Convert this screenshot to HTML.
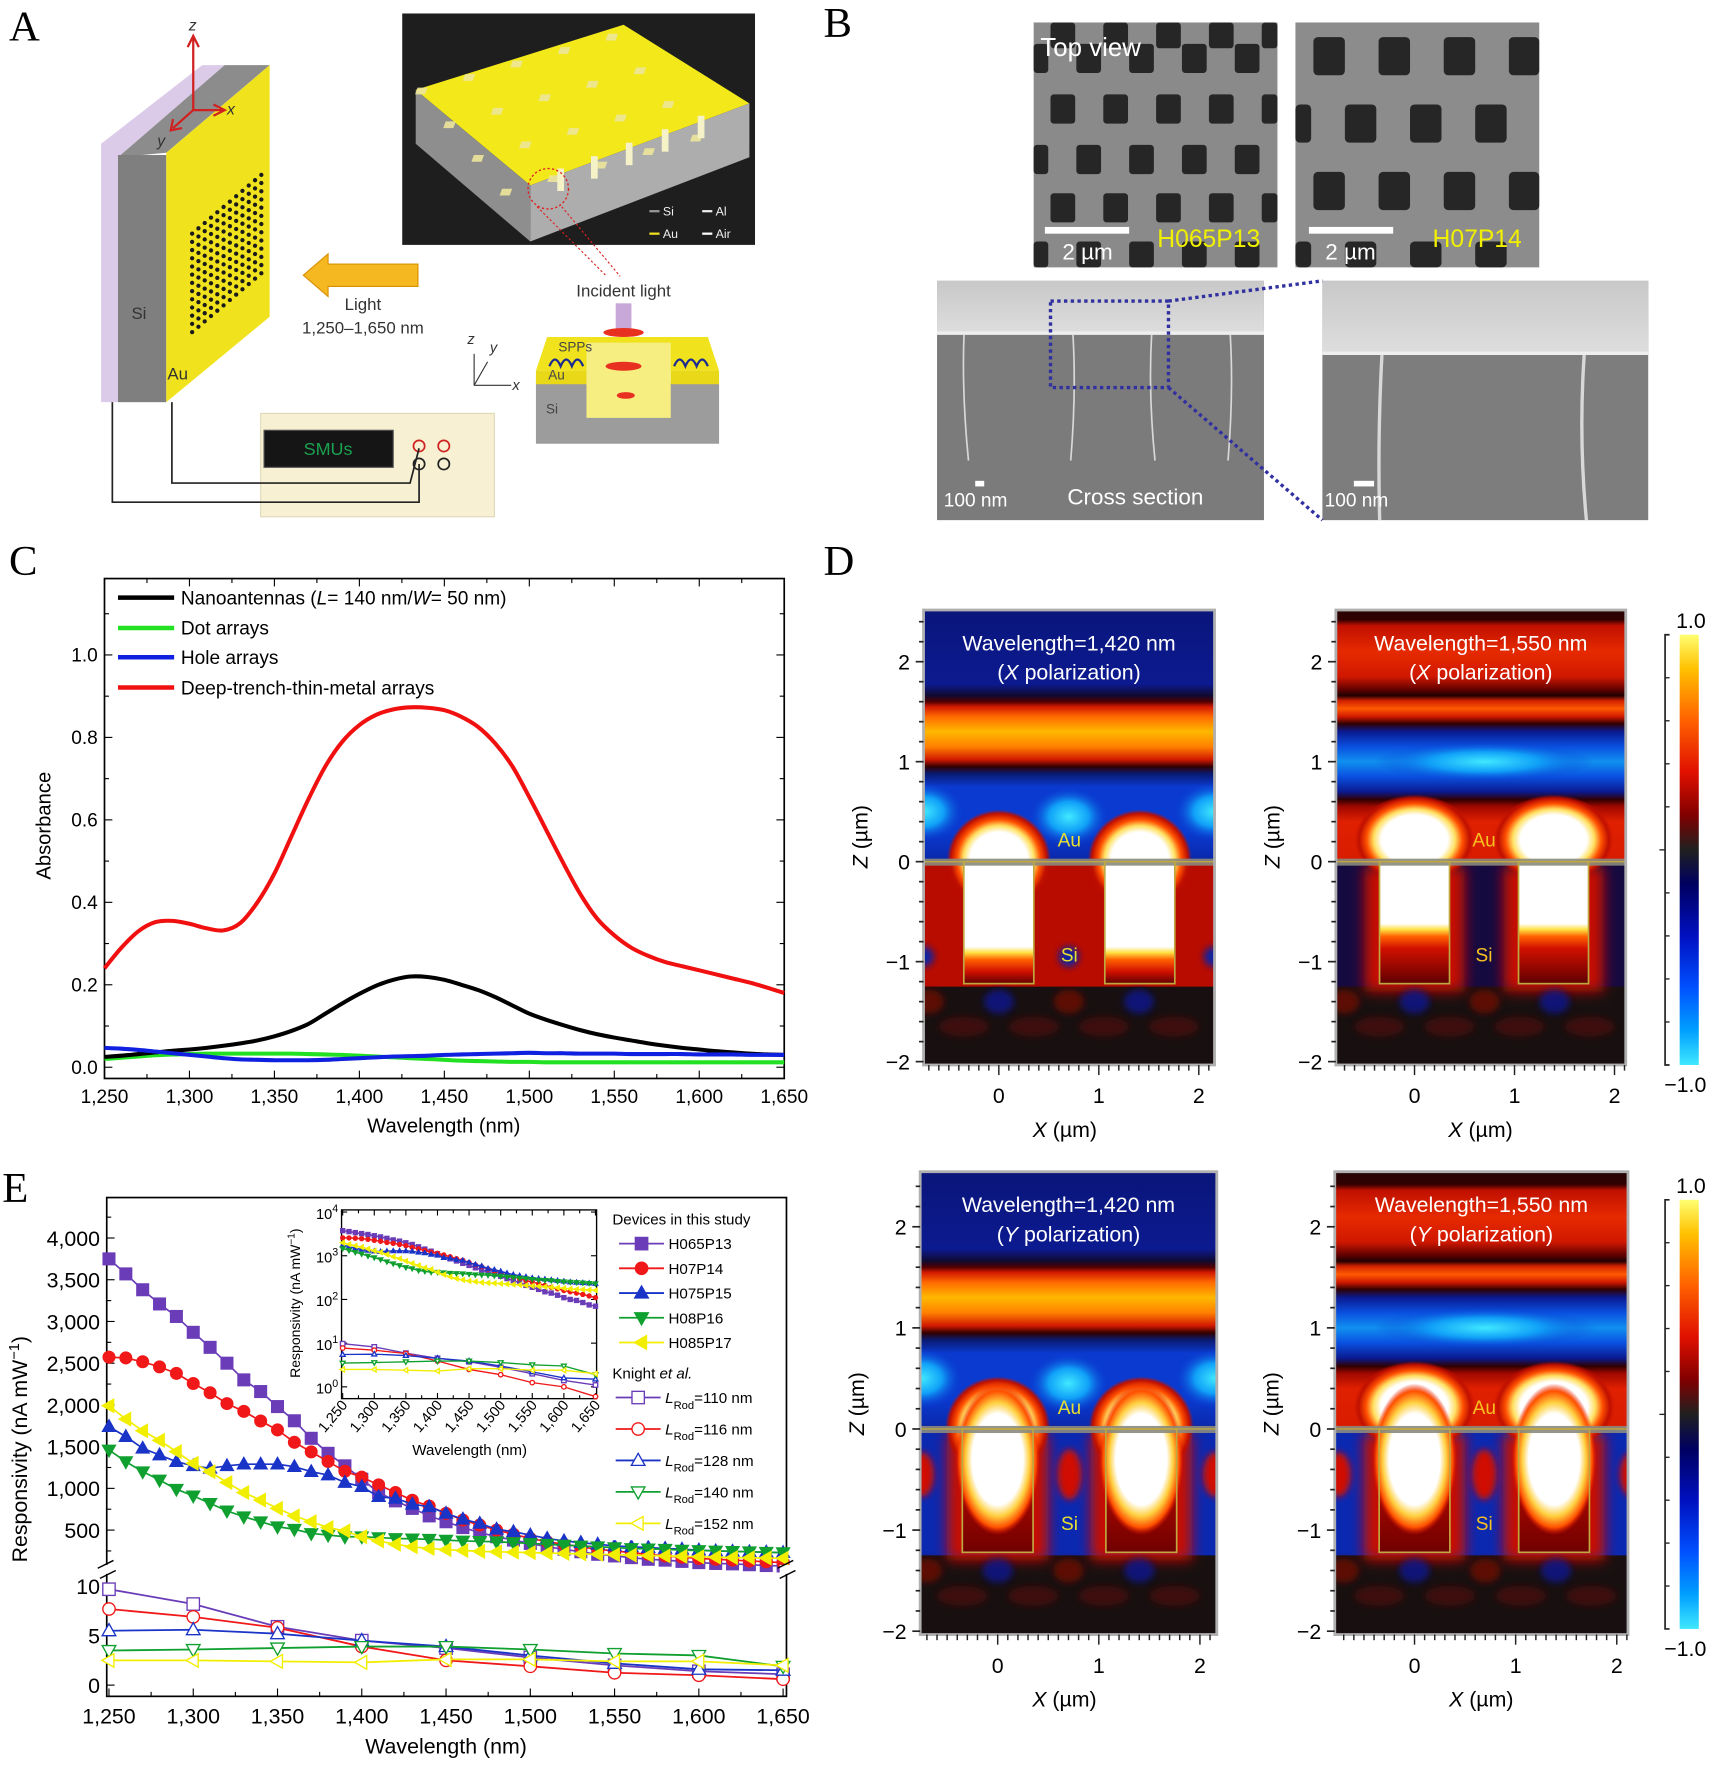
<!DOCTYPE html>
<html><head><meta charset="utf-8">
<style>
html,body{margin:0;padding:0;background:#fff}
svg{display:block}
text{font-family:"Liberation Sans",sans-serif}
.serif{font-family:"Liberation Serif",serif}
</style></head>
<body>
<svg id="fig" width="1719" height="1766" viewBox="0 0 1530 1572" preserveAspectRatio="none" xmlns="http://www.w3.org/2000/svg">
<defs>
  <linearGradient id="cbar" x1="0" y1="0" x2="0" y2="1">
    <stop offset="0" stop-color="#ffff70"/><stop offset="0.08" stop-color="#ffc000"/>
    <stop offset="0.2" stop-color="#ff6000"/><stop offset="0.32" stop-color="#e01000"/>
    <stop offset="0.42" stop-color="#800000"/><stop offset="0.5" stop-color="#202020"/>
    <stop offset="0.58" stop-color="#000060"/><stop offset="0.7" stop-color="#0010c0"/>
    <stop offset="0.82" stop-color="#0050ff"/><stop offset="0.92" stop-color="#00a0ff"/>
    <stop offset="1" stop-color="#40e8ff"/>
  </linearGradient>
  <linearGradient id="semTop" x1="0" y1="0" x2="0" y2="1">
    <stop offset="0" stop-color="#c8c8c8"/><stop offset="1" stop-color="#dedede"/>
  </linearGradient>
  <filter id="blur6" x="-50%" y="-50%" width="200%" height="200%"><feGaussianBlur stdDeviation="6"/></filter>
  <filter id="blur3" x="-50%" y="-50%" width="200%" height="200%"><feGaussianBlur stdDeviation="3"/></filter>
</defs>

<!-- Panel letters -->
<text class="serif" x="8" y="36" font-size="38">A</text>
<text class="serif" x="733" y="33" font-size="38">B</text>
<text class="serif" x="8" y="512" font-size="38">C</text>
<text class="serif" x="733" y="512" font-size="38">D</text>
<text class="serif" x="2" y="1070" font-size="38">E</text>

<!-- PANEL A -->
<g>
  <polygon points="90,128 180,58 200,58 105,140 105,358 90,358" fill="#dccbe8"/>
  <polygon points="105,140 200,58 240,58 148,136" fill="#8c8c8c"/>
  <rect x="105" y="138" width="43" height="220" fill="#7f7f7f"/>
  <polygon points="148,136 240,58 240,282 148,358" fill="#f0e21c"/>
  <g id="holes"></g>
  <text x="117" y="284" font-size="15" fill="#333">Si</text>
  <text x="149" y="338" font-size="15" fill="#333">Au</text>
  <g stroke="#d02020" stroke-width="2" fill="none">
    <line x1="172" y1="98" x2="172" y2="34"/><polyline points="167,42 172,32 177,42"/>
    <line x1="172" y1="98" x2="198" y2="98"/><polyline points="190,93 200,98 190,103"/>
    <line x1="172" y1="98" x2="154" y2="114"/><polyline points="154,106 152,116 162,114"/>
  </g>
  <text x="168" y="27" font-size="14" font-style="italic" fill="#333">z</text>
  <text x="202" y="102" font-size="14" font-style="italic" fill="#333">x</text>
  <text x="140" y="130" font-size="14" font-style="italic" fill="#333">y</text>
  <rect x="358" y="12" width="314" height="206" fill="#1e1e1e"/>
  <polygon points="370,80 555,22 667,92 472,165" fill="#f2e81a"/>
  <polygon points="370,80 472,165 472,215 370,128" fill="#8e8e8e"/>
  <polygon points="472,165 667,92 667,140 472,215" fill="#adadad"/>
  <g id="pads" fill="#ece59a"></g>
  <g fill="#f6f2c8">
    <rect x="496" y="150" width="6" height="20"/><rect x="526" y="139" width="6" height="20"/>
    <rect x="557" y="127" width="6" height="20"/><rect x="589" y="115" width="6" height="20"/>
    <rect x="621" y="103" width="6" height="20"/>
  </g>
  <circle cx="488" cy="168" r="18" fill="none" stroke="#e02020" stroke-width="1.2" stroke-dasharray="2,2"/>
  <line x1="478" y1="184" x2="540" y2="246" stroke="#e02020" stroke-dasharray="2,2"/>
  <line x1="500" y1="184" x2="552" y2="246" stroke="#e02020" stroke-dasharray="2,2"/>
  <g font-size="11" fill="#eee">
    <rect x="578" y="187" width="9" height="2" fill="#999"/><text x="590" y="192">Si</text>
    <rect x="625" y="187" width="9" height="2" fill="#eee"/><text x="637" y="192">Al</text>
    <rect x="578" y="207" width="9" height="2" fill="#f0e020"/><text x="590" y="212">Au</text>
    <rect x="625" y="207" width="9" height="2" fill="#fff"/><text x="637" y="212">Air</text>
  </g>
  <polygon points="270,245 292,226 292,235 372,235 372,255 292,255 292,264" fill="#f5b820" stroke="#d89000"/>
  <text x="323" y="276" font-size="15" fill="#333" text-anchor="middle">Light</text>
  <text x="323" y="297" font-size="15" fill="#333" text-anchor="middle">1,250–1,650 nm</text>
  <text x="555" y="264" font-size="15" fill="#333" text-anchor="middle">Incident light</text>
  <g>
    <rect x="477" y="340" width="163" height="55" fill="#9c9c9c"/>
    <polygon points="487,300 630,300 640,330 477,330" fill="#f0e21c"/>
    <rect x="477" y="330" width="45" height="12" fill="#e8d818"/>
    <rect x="597" y="330" width="43" height="12" fill="#e8d818"/>
    <polygon points="522,305 597,305 597,372 522,372" fill="#f6ee80"/>
    <rect x="548" y="270" width="14" height="28" fill="#c8a8d8"/>
    <ellipse cx="555" cy="296" rx="18" ry="4" fill="#e83020"/>
    <ellipse cx="555" cy="326" rx="16" ry="4" fill="#e83020"/>
    <ellipse cx="557" cy="352" rx="8" ry="3" fill="#e83020"/>
    <path d="M489,326 q5,-12 10,0 q5,-12 10,0 q5,-12 10,0 M600,326 q5,-12 10,0 q5,-12 10,0 q5,-12 10,0" fill="none" stroke="#1a2a90" stroke-width="2"/>
    <text x="497" y="313" font-size="12" fill="#444">SPPs</text>
    <text x="488" y="338" font-size="12" fill="#444">Au</text>
    <text x="486" y="368" font-size="12" fill="#444">Si</text>
    <g stroke="#333" fill="none"><line x1="422" y1="343" x2="422" y2="315"/><line x1="422" y1="343" x2="455" y2="343"/><line x1="422" y1="343" x2="434" y2="322"/></g>
    <text x="416" y="306" font-size="13" font-style="italic" fill="#333">z</text>
    <text x="436" y="314" font-size="13" font-style="italic" fill="#333">y</text>
    <text x="456" y="347" font-size="13" font-style="italic" fill="#333">x</text>
  </g>
  <rect x="232" y="368" width="208" height="92" fill="#f7f0d2" stroke="#e0d8b8"/>
  <rect x="235" y="383" width="115" height="33" fill="#151515" stroke="#555"/>
  <text x="292" y="405" font-size="16" fill="#1aa050" text-anchor="middle">SMUs</text>
  <g fill="none" stroke-width="1.5">
    <circle cx="373" cy="397" r="5" stroke="#d02020"/><circle cx="395" cy="397" r="5" stroke="#d02020"/>
    <circle cx="373" cy="413" r="5" stroke="#222"/><circle cx="395" cy="413" r="5" stroke="#222"/>
    <polyline points="100,358 100,447 373,447 373,413" stroke="#222"/>
    <polyline points="153,358 153,430 365,430 373,399" stroke="#222"/>
  </g>
</g>

<!-- PANEL B -->
<g>
  <rect x="920" y="20" width="217" height="218" fill="#8a8a8a"/>
  <g id="sq1" fill="#262626"></g>
  <rect x="1153" y="20" width="217" height="218" fill="#8c8c8c"/>
  <g id="sq2" fill="#262626"></g>
  <text x="926" y="50" font-size="23" fill="#fff">Top view</text>
  <rect x="930" y="202" width="75" height="6" fill="#fff"/>
  <text x="968" y="231" font-size="20" fill="#fff" text-anchor="middle">2 µm</text>
  <text x="1030" y="220" font-size="22" fill="#f0f000">H065P13</text>
  <rect x="1165" y="202" width="75" height="6" fill="#fff"/>
  <text x="1202" y="231" font-size="20" fill="#fff" text-anchor="middle">2 µm</text>
  <text x="1275" y="220" font-size="22" fill="#f0f000">H07P14</text>
  <rect x="834" y="250" width="291" height="213" fill="#7b7b7b"/>
  <rect x="834" y="250" width="291" height="48" fill="url(#semTop)"/>
  <rect x="834" y="295" width="291" height="3" fill="#eee"/>
  <g stroke="#d8d8d8" stroke-width="1.5" fill="none">
    <path d="M858,298 Q856,350 862,410"/><path d="M955,298 Q958,350 953,410"/>
    <path d="M1025,298 Q1022,350 1028,410"/><path d="M1095,298 Q1098,350 1093,410"/>
  </g>
  <rect x="868" y="428" width="8" height="5" fill="#fff"/>
  <text x="840" y="451" font-size="17" fill="#fff">100 nm</text>
  <text x="950" y="449" font-size="20" fill="#fff">Cross section</text>
  <rect x="935" y="268" width="105" height="77" fill="none" stroke="#3030a0" stroke-width="3" stroke-dasharray="3,3"/>
  <rect x="1177" y="250" width="290" height="213" fill="#7d7d7d"/>
  <rect x="1177" y="250" width="290" height="65" fill="url(#semTop)"/>
  <rect x="1177" y="313" width="290" height="3" fill="#eee"/>
  <g stroke="#d8d8d8" stroke-width="3" fill="none"><path d="M1230,316 Q1226,390 1228,463"/><path d="M1410,316 Q1405,390 1412,463"/></g>
  <rect x="1205" y="428" width="18" height="5" fill="#fff"/>
  <text x="1179" y="451" font-size="17" fill="#fff">100 nm</text>
  <line x1="1040" y1="268" x2="1177" y2="250" stroke="#3030a0" stroke-width="3" stroke-dasharray="3,3"/>
  <line x1="1040" y1="345" x2="1177" y2="463" stroke="#3030a0" stroke-width="3" stroke-dasharray="3,3"/>
</g>

<g id="panelC"></g>
<g id="panelD"></g>
<g id="panelE"></g>
</svg>

<script>
const NS='http://www.w3.org/2000/svg';
const svg=document.getElementById('fig');
function mk(tag,attrs,parent){const e=document.createElementNS(NS,tag);for(const k in attrs)e.setAttribute(k,attrs[k]);(parent||svg).appendChild(e);return e;}
function txt(s,attrs,parent){const t=mk('text',attrs,parent);t.textContent=s;return t;}

/* ---------- PANEL C DATA ---------- */
const cWave=[1250,1260,1270,1280,1290,1300,1310,1320,1330,1340,1350,1360,1370,1380,1390,1400,1410,1420,1430,1440,1450,1460,1470,1480,1490,1500,1510,1520,1530,1540,1550,1560,1570,1580,1590,1600,1610,1620,1630,1640,1650];
const cRed=[.24,.29,.33,.352,.355,.348,.337,.332,.35,.40,.47,.56,.65,.73,.79,.83,.855,.868,.873,.872,.866,.85,.825,.785,.73,.655,.575,.495,.42,.36,.32,.29,.27,.255,.245,.235,.225,.215,.205,.193,.18];
const cBlack=[.025,.028,.032,.036,.04,.043,.047,.052,.058,.065,.075,.088,.105,.13,.155,.178,.198,.212,.22,.219,.212,.2,.187,.17,.15,.13,.115,.102,.09,.08,.072,.065,.058,.052,.047,.043,.039,.036,.033,.031,.03];
const cGreen=[.02,.023,.026,.029,.031,.032,.033,.033,.033,.033,.033,.033,.032,.031,.03,.028,.026,.024,.022,.02,.018,.016,.015,.014,.013,.013,.012,.012,.012,.012,.012,.012,.012,.012,.012,.012,.012,.012,.012,.012,.012];
const cBlue=[.047,.045,.042,.038,.034,.03,.026,.022,.019,.018,.017,.017,.017,.018,.02,.022,.024,.026,.027,.028,.03,.031,.032,.033,.034,.035,.034,.034,.033,.033,.033,.032,.032,.032,.032,.031,.031,.031,.03,.03,.03];
const cYTicks=[0,0.2,0.4,0.6,0.8,1.0];
const cYTickLabels=['0.0','0.2','0.4','0.6','0.8','1.0'];
const cXTicks=[1250,1300,1350,1400,1450,1500,1550,1600,1650];
const cXTickLabels=['1,250','1,300','1,350','1,400','1,450','1,500','1,550','1,600','1,650'];
const cLegend=['Nanoantennas','Dot arrays','Hole arrays','Deep-trench-thin-metal arrays'];

/* ---------- PANEL E DATA ---------- */
const eWave=[1250,1260,1270,1280,1290,1300,1310,1320,1330,1340,1350,1360,1370,1380,1390,1400,1410,1420,1430,1440,1450,1460,1470,1480,1490,1500,1510,1520,1530,1540,1550,1560,1570,1580,1590,1600,1610,1620,1630,1640,1650];
const eH065P13=[3750,3570,3380,3210,3060,2870,2690,2500,2300,2160,1980,1810,1600,1420,1270,1110,950,850,760,670,600,530,470,420,380,340,300,270,240,210,190,170,150,140,125,110,100,95,85,75,70];
const eH07P14=[2573,2563,2517,2456,2378,2257,2146,2016,1923,1807,1700,1552,1437,1321,1205,1135,1042,950,857,787,700,620,560,500,450,400,360,330,300,270,250,230,210,190,175,160,150,140,130,120,110];
const eH075P15=[1740,1620,1480,1400,1320,1270,1240,1270,1290,1290,1290,1260,1200,1160,1070,1020,900,880,810,780,700,630,580,510,480,440,400,370,350,330,310,300,290,280,270,260,250,245,240,235,230];
const eH08P16=[1460,1320,1200,1100,990,910,820,730,660,600,540,510,460,440,420,420,410,400,395,390,380,370,365,360,350,340,330,320,310,300,290,280,275,270,260,255,250,245,240,235,230];
const eH085P17=[1990,1830,1690,1575,1440,1300,1200,1070,950,860,760,670,600,530,490,420,370,330,300,280,265,255,245,240,235,230,225,220,215,210,205,200,195,190,185,180,175,170,168,165,162];
const kWave=[1250,1300,1350,1400,1450,1500,1550,1600,1650];
const kL110=[9.7,8.2,5.9,4.5,3.75,2.8,2.0,1.4,1.1];
const kL116=[7.7,6.9,5.8,3.9,2.5,1.9,1.25,1.0,0.6];
const kL128=[5.5,5.6,5.2,4.5,3.9,3.0,2.2,1.6,1.5];
const kL140=[3.5,3.6,3.75,3.9,3.9,3.6,3.2,3.0,1.9];
const kL152=[2.5,2.5,2.4,2.3,2.6,2.6,2.4,2.4,2.0];
const eUpperTicks=[500,1000,1500,2000,2500,3000,3500,4000];
const eUpperLabels=['500','1,000','1,500','2,000','2,500','3,000','3,500','4,000'];
const eLowerTicks=[0,5,10];
const eLowerLabels=['0','5','10'];
const eXTicks=[1250,1300,1350,1400,1450,1500,1550,1600,1650];
const eXTickLabels=['1,250','1,300','1,350','1,400','1,450','1,500','1,550','1,600','1,650'];
const insetDecades=[0,1,2,3,4];
const deviceNames=['H065P13','H07P14','H075P15','H08P16','H085P17'];
const knightNames=['110','116','128','140','152'];

/* ---------- helpers ---------- */
function smooth(pts){
  let d='M'+pts[0][0].toFixed(2)+','+pts[0][1].toFixed(2);
  for(let i=0;i<pts.length-1;i++){
    const p0=pts[i-1]||pts[i],p1=pts[i],p2=pts[i+1],p3=pts[i+2]||p2;
    const c1=[p1[0]+(p2[0]-p0[0])/6,p1[1]+(p2[1]-p0[1])/6];
    const c2=[p2[0]-(p3[0]-p1[0])/6,p2[1]-(p3[1]-p1[1])/6];
    d+=' C'+c1[0].toFixed(2)+','+c1[1].toFixed(2)+' '+c2[0].toFixed(2)+','+c2[1].toFixed(2)+' '+p2[0].toFixed(2)+','+p2[1].toFixed(2);
  }
  return d;
}
function marker(shape,x,y,r,fill,stroke,parent){
  let e;
  if(shape==='sq') e=mk('rect',{x:x-r,y:y-r,width:2*r,height:2*r,fill:fill,stroke:stroke,'stroke-width':1.2},parent);
  else if(shape==='ci') e=mk('circle',{cx:x,cy:y,r:r,fill:fill,stroke:stroke,'stroke-width':1.2},parent);
  else {
    let p;
    if(shape==='up') p=[[x,y-r*1.15],[x+r*1.1,y+r*0.8],[x-r*1.1,y+r*0.8]];
    else if(shape==='dn') p=[[x,y+r*1.15],[x+r*1.1,y-r*0.8],[x-r*1.1,y-r*0.8]];
    else p=[[x-r*1.15,y],[x+r*0.8,y-r*1.1],[x+r*0.8,y+r*1.1]];
    e=mk('polygon',{points:p.map(q=>q.join(',')).join(' '),fill:fill,stroke:stroke,'stroke-width':1.2},parent);
  }
  return e;
}

/* ---------- PANEL A/B decorations ---------- */
(function(){
  const g=document.getElementById('holes');
  for(let i=0;i<12;i++)for(let j=0;j<13;j++){
    mk('circle',{cx:171+i*5.6,cy:208-i*5.6*0.85+j*7.3,r:1.9,fill:'#1a1a1a'},g);
  }
  const p=document.getElementById('pads');
  for(let i=0;i<5;i++)for(let j=0;j<4;j++){
    const x=400+i*38+j*36, y=78-i*12+j*30;
    mk('rect',{x:x,y:y,width:9,height:6,transform:'skewX(-20)',opacity:0.9},p);
  }
  const s1=document.getElementById('sq1'), s2=document.getElementById('sq2');
  const rows1=[30,52,97,142,185,228];
  for(let r=0;r<rows1.length;r++){const off=(r%2===0)?24:0;
    for(let c=-1;c<6;c++){const cx=922+off+c*47;
      const x0=Math.max(920,cx-11), x1=Math.min(1137,cx+11), y0=Math.max(20,rows1[r]-13), y1=Math.min(238,rows1[r]+13);
      if(x1>x0&&y1>y0) mk('rect',{x:x0,y:y0,width:x1-x0,height:y1-y0,rx:3},s1);}}
  const rows2=[50,110,170,232];
  for(let r=0;r<rows2.length;r++){const off=(r%2===0)?30:0;
    for(let c=-1;c<6;c++){const cx=1153+off+c*58;
      const x0=Math.max(1153,cx-14), x1=Math.min(1370,cx+14), y0=Math.max(20,rows2[r]-17), y1=Math.min(238,rows2[r]+17);
      if(x1>x0&&y1>y0) mk('rect',{x:x0,y:y0,width:x1-x0,height:y1-y0,rx:4},s2);}}
})();

/* ---------- PANEL C ---------- */
(function(){
  const g=document.getElementById('panelC');
  const L=93,R=698,T=515,B=960;
  function cx(w){return L+(w-1250)/400*(R-L);}
  function cy(v){return 950-v*367;}
  const fr=mk('rect',{x:L,y:T,width:R-L,height:B-T,fill:'none',stroke:'#000','stroke-width':1.5},g);
   
  for(let v=0;v<=1.15;v+=0.1){const y=cy(v);const maj=Math.abs(v*5-Math.round(v*5))<1e-6;const len=maj?7:4;
    mk('line',{x1:L,y1:y,x2:L+len,y2:y,stroke:'#000'},g);mk('line',{x1:R,y1:y,x2:R-len,y2:y,stroke:'#000'},g);}
  for(let w=1250;w<=1650;w+=25){const x=cx(w);const len=(w%50===0)?7:4;
    mk('line',{x1:x,y1:B,x2:x,y2:B-len,stroke:'#000'},g);mk('line',{x1:x,y1:T,x2:x,y2:T+len,stroke:'#000'},g);}
  cYTicks.forEach((v,i)=>{const t=txt(cYTickLabels[i],{x:L-6,y:cy(v)+6,'font-size':17,'text-anchor':'end'},g);
     });
  cXTicks.forEach((w,i)=>{const t=txt(cXTickLabels[i],{x:cx(w),y:982,'font-size':17,'text-anchor':'middle'},g);
     });
  const xl=txt('Wavelength (nm)',{x:395,y:1008,'font-size':18,'text-anchor':'middle'},g);
   
  const yl=txt('Absorbance',{x:0,y:0,'font-size':18,'text-anchor':'middle',transform:'translate(45,735) rotate(-90)'},g);
   
  const series=[[cGreen,'#22e022','dot-arrays-line'],[cBlack,'#000','nanoantennas-line'],[cBlue,'#1020e0','hole-arrays-line'],[cRed,'#f01010','deep-trench-line']];
  series.forEach(s=>{const pts=cWave.map((w,i)=>[cx(w),cy(s[0][i])]);
    const p=mk('path',{d:smooth(pts),fill:'none',stroke:s[1],'stroke-width':3.6,'stroke-linejoin':'round'},g);
     });
  const lc=['#000','#22e022','#1020e0','#f01010'];
  const ly=[532,559,585,612];
  cLegend.forEach((n,i)=>{
    const ln=mk('line',{x1:105,y1:ly[i],x2:155,y2:ly[i],stroke:lc[i],'stroke-width':4},g);
     
    const t=mk('text',{x:161,y:ly[i]+6,'font-size':17},g);
     
    if(i===0){t.innerHTML='Nanoantennas (<tspan font-style="italic">L</tspan>= 140 nm/<tspan font-style="italic">W</tspan>= 50 nm)';}
    else t.textContent=n;
  });
})();

/* ---------- PANEL E ---------- */
(function(){
  const g=document.getElementById('panelE');
  const L=95,R=700,T=1066,B=1510,BRK=1397;
  function ex(w){return 97+(w-1250)/400*600;}
  function eyU(v){return 1362-(v-500)*37.14/500;}
  function eyL(v){return 1500-v*8.8;}
  const fr=mk('rect',{x:L,y:T,width:R-L,height:B-T,fill:'none',stroke:'#000','stroke-width':1.5},g);
   
  for(let v=250;v<=4250;v+=250){const y=eyU(v);const len=(v%500===0)?7:4;mk('line',{x1:L,y1:y,x2:L+len,y2:y,stroke:'#000'},g);}
  for(let v=0;v<=10;v+=2.5){const y=eyL(v);const len=(v%5===0)?7:4;mk('line',{x1:L,y1:y,x2:L+len,y2:y,stroke:'#000'},g);}
  for(let w=1250;w<=1650;w+=25){const x=ex(w);const len=(w%50===0)?7:4;mk('line',{x1:x,y1:B,x2:x,y2:B-len,stroke:'#000'},g);}
  eUpperTicks.forEach((v,i)=>{const t=txt(eUpperLabels[i],{x:L-6,y:eyU(v)+7,'font-size':19,'text-anchor':'end'},g);
     });
  eLowerTicks.forEach((v,i)=>{const t=txt(eLowerLabels[i],{x:L-6,y:eyL(v)+7,'font-size':19,'text-anchor':'end'},g);
     });
  eXTicks.forEach((w,i)=>{const t=txt(eXTickLabels[i],{x:ex(w),y:1534,'font-size':19,'text-anchor':'middle'},g);
     });
  const xl=txt('Wavelength (nm)',{x:397,y:1561,'font-size':19,'text-anchor':'middle'},g);
   
  const yl=mk('text',{x:0,y:0,'font-size':19,'text-anchor':'middle',transform:'translate(24,1290) rotate(-90)'},g);
  yl.innerHTML='Responsivity (nA mW<tspan dy="-7" font-size="13">−1</tspan><tspan dy="7">)</tspan>';
   

  const cols=['#6a3cb8','#f01818','#1a34c8','#10a030','#f2ee00'];
  const shapes=['sq','ci','up','dn','lt'];
  const dev=[eH065P13,eH07P14,eH075P15,eH08P16,eH085P17];
  const kn=[kL110,kL116,kL128,kL140,kL152];
  dev.forEach((arr,si)=>{
    const pts=eWave.map((w,i)=>[ex(w),eyU(arr[i])]);
    const p=mk('polyline',{points:pts.map(q=>q.join(',')).join(' '),fill:'none',stroke:cols[si],'stroke-width':1.5},g);
     
    pts.forEach(q=>{const m=marker(shapes[si],q[0],q[1],5.2,cols[si],cols[si],g);
       });
  });
  kn.forEach((arr,si)=>{
    const pts=kWave.map((w,i)=>[ex(w),eyL(arr[i])]);
    const p=mk('polyline',{points:pts.map(q=>q.join(',')).join(' '),fill:'none',stroke:cols[si],'stroke-width':1.6},g);
     
    pts.forEach(q=>{const m=marker(shapes[si],q[0],q[1],5.5,'#fff',cols[si],g);
       });
  });
  mk('rect',{x:L-6,y:BRK-4,width:12,height:8,fill:'#fff'},g);
  mk('rect',{x:R-6,y:BRK-4,width:12,height:8,fill:'#fff'},g);
  [L,R].forEach(x=>{mk('line',{x1:x-8,y1:BRK-1,x2:x+6,y2:BRK-8,stroke:'#000','stroke-width':1.3},g);
    mk('line',{x1:x-6,y1:BRK+8,x2:x+8,y2:BRK+1,stroke:'#000','stroke-width':1.3},g);});

  /* inset */
  const IL=304,IR=531,IT=1077,IB=1245;
  function ix(w){return 305+(w-1250)/400*225;}
  function iy(v){return 1234.5-Math.log10(v)*38.9;}
  const ifr=mk('rect',{x:IL,y:IT,width:IR-IL,height:IB-IT,fill:'#fff',stroke:'#000','stroke-width':1.2},g);
   
  insetDecades.forEach(d=>{const y=iy(Math.pow(10,d));
    mk('line',{x1:IL,y1:y,x2:IL+5,y2:y,stroke:'#000'},g);mk('line',{x1:IR,y1:y,x2:IR-5,y2:y,stroke:'#000'},g);
    const t=mk('text',{x:IL-3,y:y+6,'font-size':13,'text-anchor':'end'},g);
    t.innerHTML='10<tspan dy="-6" font-size="9.5">'+d+'</tspan>';
     });
  for(let w=1250;w<=1650;w+=25){const x=ix(w);mk('line',{x1:x,y1:IB,x2:x,y2:IB-((w%50===0)?5:3),stroke:'#000'},g);mk('line',{x1:x,y1:IT,x2:x,y2:IT+((w%50===0)?5:3),stroke:'#000'},g);}
  eXTicks.forEach((w,i)=>{const x=ix(w)+5,y=IB+6;const t=txt(eXTickLabels[i],{x:x,y:y,'font-size':13,'text-anchor':'end',transform:'rotate(-50 '+x+' '+y+')'},g);
     });
  const ixl=txt('Wavelength (nm)',{x:418,y:1295,'font-size':13.5,'text-anchor':'middle'},g);
   
  const iyl=mk('text',{x:0,y:0,'font-size':12.5,'text-anchor':'middle',transform:'translate(267,1160) rotate(-90)'},g);
  iyl.innerHTML='Responsivity (nA mW<tspan dy="-5" font-size="9">−1</tspan><tspan dy="5">)</tspan>';
   
  dev.forEach((arr,si)=>{const pts=eWave.map((w,i)=>[ix(w),iy(arr[i])]);
    const p=mk('polyline',{points:pts.map(q=>q.join(',')).join(' '),fill:'none',stroke:cols[si],'stroke-width':1.3},g);
     
    pts.forEach(q=>{const m=marker(shapes[si],q[0],q[1],1.8,cols[si],cols[si],g);
       });});
  kn.forEach((arr,si)=>{const pts=kWave.map((w,i)=>[ix(w),iy(arr[i])]);
    const p=mk('polyline',{points:pts.map(q=>q.join(',')).join(' '),fill:'none',stroke:cols[si],'stroke-width':1.2},g);
     
    pts.forEach(q=>{const m=marker(shapes[si],q[0],q[1],2,'#fff',cols[si],g);
       });});

  /* legend */
  mk('rect',{x:540,y:1071,width:150,height:300,fill:'#fff'},g);
  const h1=txt('Devices in this study',{x:545,y:1090,'font-size':13.5},g);
   
  const dy=[1107,1129,1151,1173,1195];
  deviceNames.forEach((n,i)=>{mk('line',{x1:551,y1:dy[i],x2:591,y2:dy[i],stroke:cols[i],'stroke-width':1.6},g);
    const m=marker(shapes[i],571,dy[i],5.5,cols[i],cols[i],g);
     
    const t=txt(n,{x:595,y:dy[i]+5,'font-size':13.5},g);
     });
  const h2=mk('text',{x:545,y:1227,'font-size':13.5},g);
  h2.innerHTML='Knight <tspan font-style="italic">et al.</tspan>';
   
  const ky=[1244,1272,1300,1328,1356];
  knightNames.forEach((n,i)=>{mk('line',{x1:548,y1:ky[i],x2:588,y2:ky[i],stroke:cols[i],'stroke-width':1.6},g);
    const m=marker(shapes[i],568,ky[i],5.5,'#fff',cols[i],g);
     
    const t=mk('text',{x:592,y:ky[i]+5,'font-size':13.5},g);
    t.innerHTML='<tspan font-style="italic">L</tspan><tspan dy="5" font-size="10">Rod</tspan><tspan dy="-5">='+n+' nm</tspan>';
     });
})();

/* ---------- PANEL D ---------- */
(function(){
  const root=document.getElementById('panelD');
  function heat(id,x0,x1,y0,y1,zero,s,xz,per,variant,pol,title){
    const g=mk('g',{},root);
     
    const Y=z=>zero-z*s, X=u=>xz+u*s;
    const yA=Y(2.6),yB=Y(0);const off=z=>((Y(z)-yA)/(yB-yA)).toFixed(4);
    let stops;
    if(variant==='a') stops=[[2.6,'#0a1578'],[1.78,'#0c1a90'],[1.66,'#100a30'],[1.6,'#500000'],[1.55,'#d01800'],[1.45,'#ff6a00'],[1.3,'#ffb800'],[1.15,'#ff8000'],[1.02,'#d01800'],[0.95,'#300000'],[0.88,'#0a1a70'],[0.75,'#0a3ad0'],[0.3,'#0a3ad0'],[0.05,'#0a2ab0'],[0,'#0a2090']];
    else stops=[[2.6,'#200808'],[2.42,'#300000'],[2.36,'#c01000'],[2.1,'#e62a00'],[1.85,'#d01800'],[1.72,'#600000'],[1.66,'#200000'],[1.61,'#d02000'],[1.53,'#ff5a00'],[1.45,'#d01800'],[1.38,'#300000'],[1.3,'#0a1a90'],[1.15,'#0a50e0'],[1.0,'#1090f0'],[0.85,'#0a50e0'],[0.7,'#0a1a90'],[0.62,'#300000'],[0.55,'#a00800'],[0.4,'#e02000'],[0,'#d81c00']];
    let defs='<linearGradient id="tg'+id+'" gradientUnits="userSpaceOnUse" x1="0" y1="'+yA+'" x2="0" y2="'+yB+'">'+stops.map(q=>'<stop offset="'+off(q[0])+'" stop-color="'+q[1]+'"/>').join('')+'</linearGradient>';
    defs+='<radialGradient id="dm'+id+'"><stop offset="0" stop-color="#fff"/><stop offset="0.55" stop-color="#fff"/><stop offset="0.68" stop-color="#ffe060"/><stop offset="0.8" stop-color="#ff5000"/><stop offset="0.92" stop-color="#c01000"/><stop offset="1" stop-color="#c01000" stop-opacity="0"/></radialGradient>';
    defs+='<radialGradient id="cy'+id+'"><stop offset="0" stop-color="#40e8ff"/><stop offset="0.5" stop-color="#10a0f8"/><stop offset="1" stop-color="#0a3ad0" stop-opacity="0"/></radialGradient>';
    const tw=variant==='a'?-0.85:-0.62;
    const trStops=pol==='X'?[[0,'#fff'],[tw,'#fff'],[tw-0.06,'#ffe040'],[tw-0.13,'#ff6000'],[tw-0.25,'#d01000'],[-1.22,'#600000']]:[[0,'#e01000'],[-1.22,'#700000']];
    const offT=z=>(z/-1.22).toFixed(4);
    defs+='<linearGradient id="tr'+id+'" gradientUnits="userSpaceOnUse" x1="0" y1="'+Y(0)+'" x2="0" y2="'+Y(-1.22)+'">'+trStops.map(q=>'<stop offset="'+offT(q[0])+'" stop-color="'+q[1]+'"/>').join('')+'</linearGradient>';
    defs+='<radialGradient id="yw'+id+'"><stop offset="0" stop-color="#fff"/><stop offset="0.6" stop-color="#fff"/><stop offset="0.75" stop-color="#ffd040"/><stop offset="0.9" stop-color="#ff5000"/><stop offset="1" stop-color="#e01000" stop-opacity="0"/></radialGradient>';
    defs+='<clipPath id="cl'+id+'"><rect x="'+x0+'" y="'+y0+'" width="'+(x1-x0)+'" height="'+(y1-y0)+'"/></clipPath>';
    let h='<defs>'+defs+'</defs><g clip-path="url(#cl'+id+')">';
    h+='<rect x="'+x0+'" y="'+y0+'" width="'+(x1-x0)+'" height="'+(y1-y0)+'" fill="#181010"/>';
    h+='<rect x="'+x0+'" y="'+y0+'" width="'+(x1-x0)+'" height="'+(Y(0)-y0)+'" fill="url(#tg'+id+')"/>';
    if(variant==='a'){
      [[0.7,0.45],[-0.75,0.5],[2.15,0.5]].forEach(c=>{h+='<ellipse cx="'+X(c[0])+'" cy="'+Y(c[1])+'" rx="'+(0.4*s)+'" ry="'+(0.3*s)+'" fill="url(#cy'+id+')"/>';});
    } else {
      h+='<ellipse cx="'+X(0.7)+'" cy="'+Y(1.0)+'" rx="'+(1.1*s)+'" ry="'+(0.2*s)+'" fill="url(#cy'+id+')"/>';
    }
    const cents=[0,per];
    const wBelow=pol==='X'?(variant==='a'?'#b80c00':'#150a40'):'#0a28b0';
    h+='<rect x="'+x0+'" y="'+Y(0)+'" width="'+(x1-x0)+'" height="'+(1.25*s)+'" fill="'+wBelow+'"/>';
    if(!(pol==='X'&&variant==='a')){
      cents.forEach(c=>{h+='<rect x="'+X(c-0.5)+'" y="'+Y(-0.05)+'" width="'+(1.0*s)+'" height="'+(1.25*s)+'" fill="#c81000" filter="url(#blur6)"/>';});
      if(pol==='Y'){h+='<ellipse cx="'+X(per/2)+'" cy="'+Y(-0.45)+'" rx="'+(0.12*s)+'" ry="'+(0.25*s)+'" fill="#d01000" filter="url(#blur3)"/>';
        [-0.75,2.15].forEach(u=>{h+='<ellipse cx="'+X(u)+'" cy="'+Y(-0.45)+'" rx="'+(0.12*s)+'" ry="'+(0.22*s)+'" fill="#d01000" filter="url(#blur3)"/>';});}
    } else {
      [-0.75,0.7,2.15].forEach(u=>{h+='<ellipse cx="'+X(u)+'" cy="'+Y(-0.95)+'" rx="'+(0.1*s)+'" ry="'+(0.1*s)+'" fill="#0a20a0" filter="url(#blur3)"/>';});
    }
    for(let k=-1;k<4;k++){const u=-0.7+k*0.7;
      h+='<ellipse cx="'+X(u)+'" cy="'+Y(-1.4)+'" rx="'+(0.15*s)+'" ry="'+(0.12*s)+'" fill="'+(k%2?'#0a1890':'#700800')+'" filter="url(#blur3)" opacity="0.8"/>';
      h+='<ellipse cx="'+X(u+0.35)+'" cy="'+Y(-1.65)+'" rx="'+(0.25*s)+'" ry="'+(0.1*s)+'" fill="#500808" filter="url(#blur3)" opacity="0.7"/>';}
    cents.forEach(c=>{
      if(variant==='a') h+='<ellipse cx="'+X(c)+'" cy="'+Y(0.02)+'" rx="'+(0.52*s)+'" ry="'+(0.5*s)+'" fill="url(#dm'+id+')"/>';
      else h+='<ellipse cx="'+X(c)+'" cy="'+Y(0.22)+'" rx="'+(0.6*s)+'" ry="'+(0.45*s)+'" fill="url(#dm'+id+')"/>';
    });
    cents.forEach(c=>{
      h+='<rect x="'+X(c-0.35)+'" y="'+Y(0)+'" width="'+(0.7*s)+'" height="'+(1.22*s)+'" fill="url(#tr'+id+')"/>';
      if(pol==='Y') h+='<ellipse cx="'+X(c)+'" cy="'+Y(-0.3)+'" rx="'+(0.42*s)+'" ry="'+(0.75*s)+'" fill="url(#yw'+id+')"/>';
    });
    h+='<rect x="'+x0+'" y="'+(Y(0.03))+'" width="'+(x1-x0)+'" height="'+(0.07*s)+'" fill="#8a8a80" opacity="0.9"/>';
    h+='</g>';
    const gold='#c0a840';
    h+='<line x1="'+x0+'" y1="'+Y(0)+'" x2="'+x1+'" y2="'+Y(0)+'" stroke="'+gold+'" stroke-width="1.2"/>';
    cents.forEach(c=>{h+='<rect x="'+X(c-0.35)+'" y="'+Y(0)+'" width="'+(0.7*s)+'" height="'+(1.22*s)+'" fill="none" stroke="'+gold+'" stroke-width="1.5"/>';});
    const lab=variant==='a'?'#e8e030':'#f8c020';
    h+='<text x="'+X(per/2)+'" y="'+Y(0.15)+'" font-size="17" fill="'+lab+'" text-anchor="middle">Au</text>';
    h+='<text x="'+X(per/2)+'" y="'+Y(-1.0)+'" font-size="17" fill="'+lab+'" text-anchor="middle">Si</text>';
    h+='<text x="'+((x0+x1)/2)+'" y="'+(y0+36)+'" font-size="19" fill="#fff" text-anchor="middle">'+title+'</text>';
    h+='<text x="'+((x0+x1)/2)+'" y="'+(y0+62)+'" font-size="19" fill="#fff" text-anchor="middle">(<tspan font-style="italic">'+pol+'</tspan> polarization)</text>';
    h+='<rect x="'+x0+'" y="'+y0+'" width="'+(x1-x0)+'" height="'+(y1-y0)+'" fill="none" stroke="#b0b0b0" stroke-width="2.5"/>';
    for(let z=-2;z<=2.41;z+=0.2){const zz=Math.round(z*10)/10;const maj=Math.abs(zz-Math.round(zz))<1e-6;
      h+='<line x1="'+x0+'" y1="'+Y(zz)+'" x2="'+(x0-(maj?7:4))+'" y2="'+Y(zz)+'" stroke="#222" stroke-width="1.5"/>';
      if(maj) h+='<text x="'+(x0-12)+'" y="'+(Y(zz)+7)+'" font-size="19" text-anchor="end">'+(zz<0?'−'+(-zz):zz)+'</text>';}
    for(let u=-0.7;u<=2.11;u+=0.1){const uu=Math.round(u*10)/10;const maj=Math.abs(uu-Math.round(uu))<1e-6;
      h+='<line x1="'+X(uu)+'" y1="'+y1+'" x2="'+X(uu)+'" y2="'+(y1+(maj?9:5))+'" stroke="#222" stroke-width="1.3"/>';
      if(maj) h+='<text x="'+X(uu)+'" y="'+(y1+34)+'" font-size="19" text-anchor="middle">'+uu+'</text>';}
    h+='<text x="'+X(0.66)+'" y="'+(y1+64)+'" font-size="19" text-anchor="middle"><tspan font-style="italic">X</tspan> (µm)</text>';
    h+='<text transform="translate('+(x0-50)+','+Y(0.25)+') rotate(-90)" font-size="19" text-anchor="middle"><tspan font-style="italic">Z</tspan> (µm)</text>';
    g.innerHTML=h;
  }
  heat('tl',822,1081,543,948,767,89,889,1.41,'a','X','Wavelength=1,420 nm');
  heat('tr',1189,1447,543,948,767,89,1259,1.39,'b','X','Wavelength=1,550 nm');
  heat('bl',819,1083,1043,1455,1272,90,888,1.42,'a','Y','Wavelength=1,420 nm');
  heat('br',1188,1449,1043,1455,1272,90,1259,1.38,'b','Y','Wavelength=1,550 nm');
  function cbar(y0,y1,lt,lb){
    const g=mk('g',{},root);
     
    mk('rect',{x:1495,y:y0,width:17,height:y1-y0,fill:'url(#cbar)'},g);
    mk('polyline',{points:'1486,'+y0+' 1482,'+y0+' 1482,'+y1+' 1486,'+y1,fill:'none',stroke:'#222','stroke-width':1.5},g);
    for(let k=1;k<10;k++){const y=y0+(y1-y0)*k/10;mk('line',{x1:1482,y1:y,x2:k===5?1477:1486,y2:y,stroke:'#222','stroke-width':1.2},g);}
    txt(lt,{x:1505,y:y0-6,'font-size':19,'text-anchor':'middle'},g);
    txt(lb,{x:1500,y:y1+24,'font-size':19,'text-anchor':'middle'},g);
  }
  cbar(565,948,'1.0','−1.0');
  cbar(1068,1450,'1.0','−1.0');
})();
</script>
</body></html>
